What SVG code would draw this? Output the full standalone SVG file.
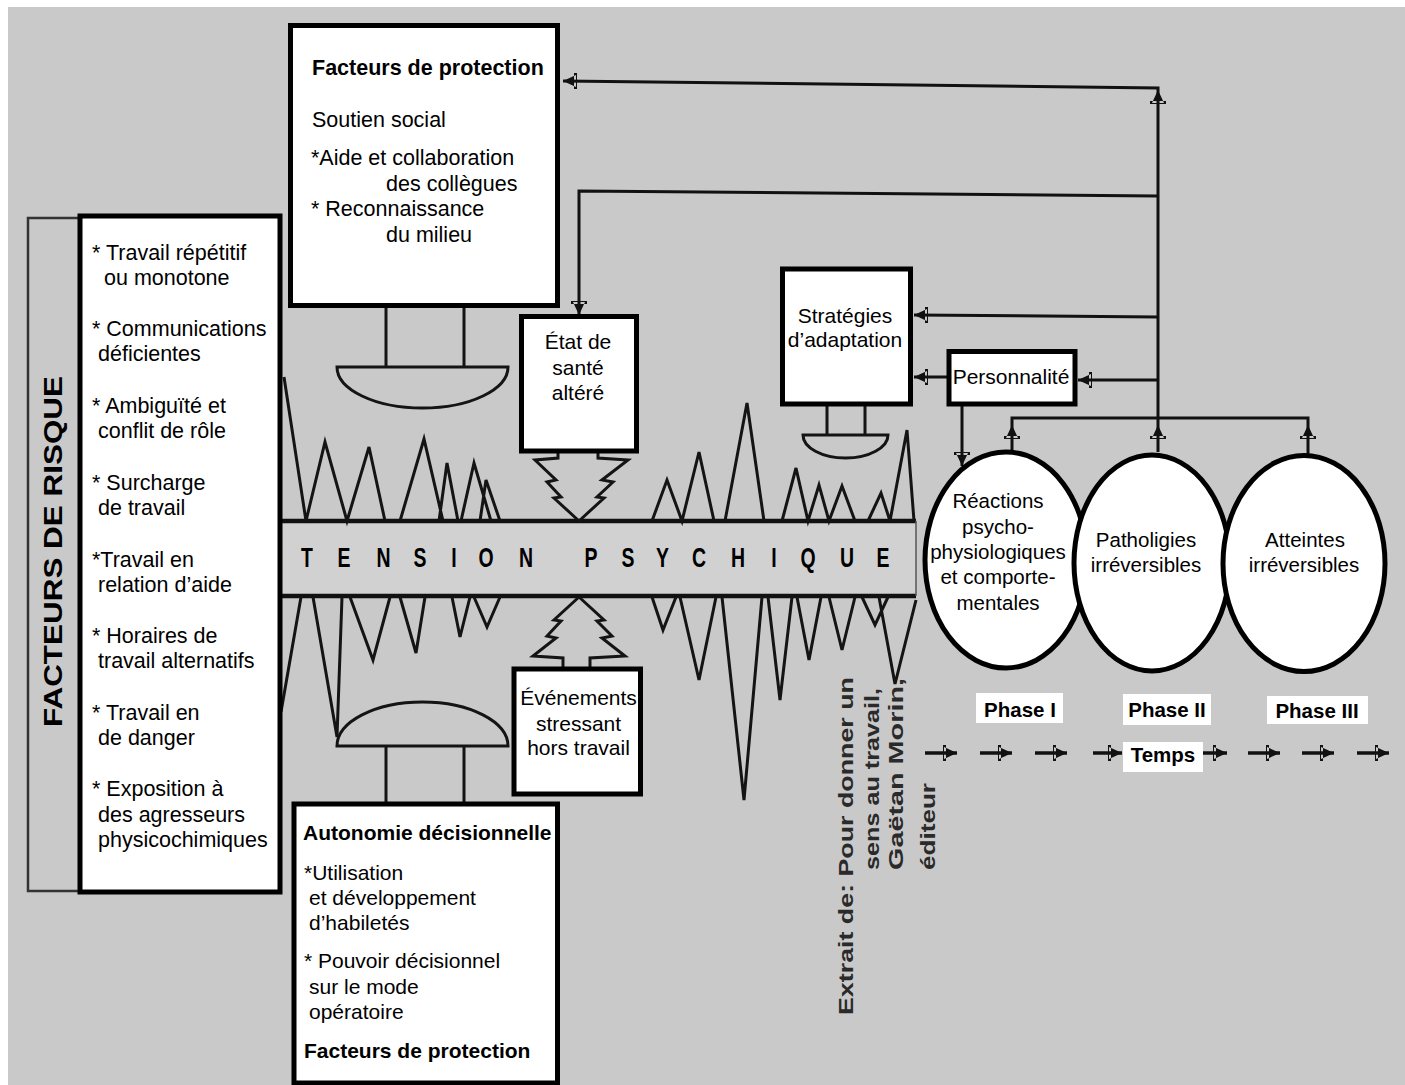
<svg xmlns="http://www.w3.org/2000/svg" xmlns:xlink="http://www.w3.org/1999/xlink" width="1405" height="1085" viewBox="0 0 1405 1085">
<style>
  .t { font-family: "Liberation Sans", Arial, sans-serif; fill: #000; }
  .r { font-size: 21.5px; }
  .s { font-size: 21px; }
  .e { font-size: 20.5px; text-anchor: middle; }
  .m { font-size: 21px; text-anchor: middle; }
  .b { font-weight: bold; }
  .box { fill: #fff; stroke: #000; stroke-width: 5; }
  .ell { fill: #fff; stroke: #000; stroke-width: 5; }
  .ln { fill: none; stroke: #111; stroke-width: 3; stroke-linejoin: miter; }
  .sp { fill: none; stroke: #141414; stroke-width: 3; stroke-linejoin: miter; }
  .ph { fill: #fff; }
  .ex { font-family: "Liberation Sans", Arial, sans-serif; font-size: 20px; font-weight: bold; fill: #2a2a2a; }
</style>
<defs>
  <path id="ah" d="M0,0 L-13,-6 L-13,6 Z M-14,-8 L-11,-8 L-11,8 L-14,8 Z" fill="#111"/>
  <marker id="mh" markerUnits="userSpaceOnUse" markerWidth="16" markerHeight="18" viewBox="-15 -9 16 18" refX="0" refY="0" orient="auto">
    <use href="#ah" xlink:href="#ah"/>
  </marker>
</defs>

<rect x="0" y="0" width="1405" height="1085" fill="#ffffff"/>
<rect x="8" y="7" width="1397" height="1078" fill="#c9c9c9"/>

<!-- tension bar and spikes -->
<g id="tension">
  <rect x="280" y="521" width="636" height="75" fill="#d1d1d1"/>
  <line x1="280" y1="521" x2="916" y2="521" stroke="#111" stroke-width="4.5"/>
  <line x1="280" y1="596" x2="916" y2="596" stroke="#111" stroke-width="4.5"/>
  <line x1="916" y1="521" x2="916" y2="596" stroke="#555" stroke-width="1.5"/>
  <text class="t b" font-size="27" fill="#1a1a1a" transform="scale(0.72,1)" y="567" text-anchor="middle" x="426.4 477.8 532.6 583.3 630.6 675 730.6">TENSION</text>
  <text class="t b" font-size="27" fill="#1a1a1a" transform="scale(0.72,1)" y="567" text-anchor="middle" x="820.8 872.2 920.1 970.8 1025 1075 1122.2 1176.4 1226.4">PSYCHIQUE</text>
  <path class="sp" d="M284,377 L306,521 M306,521 L325,442 L347,521 L369,447 L385,521 M400,521 L424,439 L443,521 M439,521 L447,463 L458,521 M461,521 L474,463 L491,521 M480,521 L486,480 L500,521"/>
  <path class="sp" d="M652,521 L667,480 L682,521 L699,452 L714,521 M725,521 L747,403 L764,521 M782,521 L796,468 L808,521 L819,485 L829,521 L842,486 L855,521 M868,521 L881,493 L890,521 L907,430 L914,521"/>
  <path class="sp" d="M301,597 L281,712 M313,597 L337,737 L342,597 M350,597 L373,660 L390,597 M400,597 L416,653 L425,597 M452,597 L460,637 L470,597 M474,597 L487,627 L500,597"/>
  <path class="sp" d="M652,597 L663,630 L676,597 M680,597 L699,680 L716,597 M722,597 L744,800 L762,597 M768,597 L780,700 L792,597 M797,597 L809,660 L821,597 M829,597 L842,650 L855,597 M862,597 L875,625 L888,597 M879,597 L895,684 L916,600"/>
  <path class="sp" d="M558,451 V458 L535,460 L556,480 L547,482 L561,497 L554,498 L579,521 M598,451 V458 L628,460 L602,480 L613,482 L597,497 L604,498 L579,521"/>
  <path class="sp" d="M579,597 L554,620 L561,621 L547,636 L556,638 L533,656 L563,658 V669 M579,597 L604,620 L597,621 L612,636 L602,638 L625,656 L590,658 V669"/>
  <!-- domes -->
  <path class="sp" d="M386,306 V367 M464,306 V367 M337,367 H508 A85.5,41 0 0 1 337,367 Z"/>
  <path class="sp" d="M386,746 V804 M464,746 V804 M337,746 H508 A85.5,44 0 0 0 337,746 Z"/>
  <path class="sp" d="M827,404 V435 M865,404 V435 M803,435 H888 A42.5,23 0 0 1 803,435 Z"/>
</g>

<!-- connectors -->
<g id="connectors">
  <path class="ln" d="M1158,452 V88 L563,81"/>
  <path class="ln" d="M1158,196 L579,191 V314"/>
  <path class="ln" d="M1158,317 L914,315"/>
  <path class="ln" d="M1158,380 L1078,380"/>
  <path class="ln" d="M949,377 L914,377"/>
  <path class="ln" d="M962,404 V466"/>
  <path class="ln" d="M1012,452 V418 H1308 V457"/>
  <use href="#ah" xlink:href="#ah" transform="translate(563,81) rotate(180)"/>
  <use href="#ah" xlink:href="#ah" transform="translate(1158,90) rotate(-90)"/>
  <use href="#ah" xlink:href="#ah" transform="translate(1158,425) rotate(-90)"/>
  <use href="#ah" xlink:href="#ah" transform="translate(1012,425) rotate(-90)"/>
  <use href="#ah" xlink:href="#ah" transform="translate(1308,425) rotate(-90)"/>
  <use href="#ah" xlink:href="#ah" transform="translate(579,315) rotate(90)"/>
  <use href="#ah" xlink:href="#ah" transform="translate(914,315) rotate(180)"/>
  <use href="#ah" xlink:href="#ah" transform="translate(1078,380) rotate(180)"/>
  <use href="#ah" xlink:href="#ah" transform="translate(914,377) rotate(180)"/>
  <use href="#ah" xlink:href="#ah" transform="translate(962,466) rotate(90)"/>
  <g stroke="#111" stroke-width="3.5" marker-end="url(#mh)">
    <line x1="925" y1="753" x2="957" y2="753"/>
    <line x1="980" y1="753" x2="1012" y2="753"/>
    <line x1="1035" y1="753" x2="1067" y2="753"/>
    <line x1="1093" y1="753" x2="1122" y2="753"/>
    <line x1="1203" y1="753" x2="1227" y2="753"/>
    <line x1="1248" y1="753" x2="1280" y2="753"/>
    <line x1="1302" y1="753" x2="1334" y2="753"/>
    <line x1="1357" y1="753" x2="1389" y2="753"/>
  </g>
</g>

<!-- risk factors -->
<g id="risque">
  <rect x="28" y="218" width="60" height="673" fill="none" stroke="#333" stroke-width="2.5"/>
  <text class="t b" font-size="26" fill="#222" transform="translate(62,727) rotate(-90)" textLength="351" lengthAdjust="spacingAndGlyphs">FACTEURS DE RISQUE</text>
  <rect class="box" x="80" y="216" width="200" height="676"/>
  <g class="t r">
    <text x="92" y="260">* Travail répétitif</text>
    <text x="104" y="285">ou monotone</text>
    <text x="92" y="336">* Communications</text>
    <text x="98" y="361">déficientes</text>
    <text x="92" y="413">* Ambiguïté et</text>
    <text x="98" y="438">conflit de rôle</text>
    <text x="92" y="490">* Surcharge</text>
    <text x="98" y="515">de travail</text>
    <text x="92" y="567">*Travail en</text>
    <text x="98" y="592">relation d’aide</text>
    <text x="92" y="643">* Horaires de</text>
    <text x="98" y="668">travail alternatifs</text>
    <text x="92" y="720">* Travail en</text>
    <text x="98" y="745">de danger</text>
    <text x="92" y="796">* Exposition à</text>
    <text x="98" y="822">des agresseurs</text>
    <text x="98" y="847">physicochimiques</text>
  </g>
</g>

<g id="soutien">
  <rect class="box" x="290.5" y="25.5" width="267" height="280"/>
  <g class="t r">
    <text class="b" x="312" y="75">Facteurs de protection</text>
    <text x="312" y="127">Soutien social</text>
    <text x="311" y="165">*Aide et collaboration</text>
    <text x="386" y="191">des collègues</text>
    <text x="311" y="216">* Reconnaissance</text>
    <text x="386" y="242">du milieu</text>
  </g>
</g>

<g id="autonomie">
  <rect class="box" x="294" y="804" width="263.5" height="279"/>
  <g class="t s">
    <text class="b" x="303" y="840">Autonomie décisionnelle</text>
    <text x="304" y="880">*Utilisation</text>
    <text x="309" y="905">et développement</text>
    <text x="309" y="930">d’habiletés</text>
    <text x="304" y="968">* Pouvoir décisionnel</text>
    <text x="309" y="994">sur le mode</text>
    <text x="309" y="1019">opératoire</text>
    <text class="b" x="304" y="1058">Facteurs de protection</text>
  </g>
</g>

<g id="etat">
  <rect class="box" x="521.5" y="316.5" width="115" height="134.5"/>
  <g class="t m">
    <text x="578" y="349">État de</text>
    <text x="578" y="375">santé</text>
    <text x="578" y="400">altéré</text>
  </g>
</g>

<g id="evenements">
  <rect class="box" x="514" y="669" width="126.5" height="125"/>
  <g class="t m">
    <text x="578.5" y="705">Événements</text>
    <text x="578.5" y="731">stressant</text>
    <text x="578.5" y="755">hors travail</text>
  </g>
</g>

<g id="strategies">
  <rect class="box" x="782.5" y="269" width="128" height="135"/>
  <g class="t m">
    <text x="845" y="323">Stratégies</text>
    <text x="845" y="347">d’adaptation</text>
  </g>
</g>

<g id="personnalite">
  <rect class="box" x="949" y="351.5" width="126" height="52.5"/>
  <text class="t m" x="1011" y="384">Personnalité</text>
</g>

<g id="reactions">
  <ellipse class="ell" cx="1006" cy="560" rx="81" ry="108"/>
  <g class="t e">
    <text x="998" y="508">Réactions</text>
    <text x="998" y="534">psycho-</text>
    <text x="998" y="559">physiologiques</text>
    <text x="998" y="584">et comporte-</text>
    <text x="998" y="610">mentales</text>
  </g>
</g>

<g id="pathologies">
  <ellipse class="ell" cx="1152" cy="563" rx="78" ry="108"/>
  <g class="t e">
    <text x="1146" y="547">Patholigies</text>
    <text x="1146" y="572">irréversibles</text>
  </g>
</g>

<g id="atteintes">
  <ellipse class="ell" cx="1304" cy="563.5" rx="81" ry="108"/>
  <g class="t e">
    <text x="1305" y="547">Atteintes</text>
    <text x="1304" y="572">irréversibles</text>
  </g>
</g>

<g id="phases">
  <rect class="ph" x="976" y="693" width="87" height="30"/>
  <rect class="ph" x="1123" y="694" width="88" height="31"/>
  <rect class="ph" x="1267" y="696" width="101" height="28"/>
  <rect class="ph" x="1123" y="742" width="80" height="30"/>
  <g class="t e b">
    <text x="1020" y="717">Phase I</text>
    <text x="1167" y="717">Phase II</text>
    <text x="1317" y="718">Phase III</text>
    <text x="1163" y="762">Temps</text>
  </g>
</g>

<g id="source">
  <text class="ex" transform="translate(853,1015) rotate(-90)" textLength="338" lengthAdjust="spacingAndGlyphs">Extrait de: Pour donner un</text>
  <text class="ex" transform="translate(879,870) rotate(-90)" textLength="182" lengthAdjust="spacingAndGlyphs">sens au travail,</text>
  <text class="ex" transform="translate(903,870) rotate(-90)" textLength="192" lengthAdjust="spacingAndGlyphs">Gaëtan Morin,</text>
  <text class="ex" transform="translate(935,870) rotate(-90)" textLength="87" lengthAdjust="spacingAndGlyphs">éditeur</text>
</g>
</svg>
